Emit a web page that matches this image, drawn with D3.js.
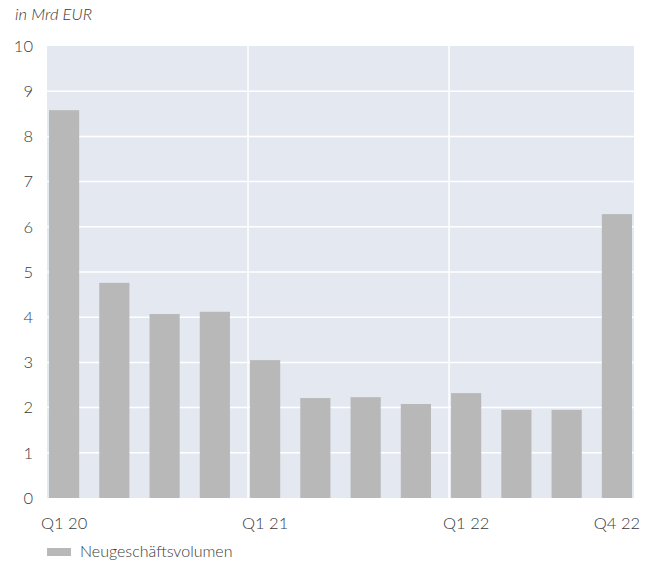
<!DOCTYPE html>
<html lang="de">
<head>
  <meta charset="UTF-8">
  <title>Neugeschäftsvolumen</title>
  <script src="https://d3js.org/d3.v7.min.js"></script>
  <style>
    body {
      margin: 0;
      padding: 0;
      background: #fff;
      font-family: 'Lato', 'Open Sans', sans-serif;
      font-weight: 300;
    }
    .tick text { fill: #3a3a3a; }
  </style>
</head>
<body>
  <div id="chart"></div>
  <script>
    // quarters and new business volume (Mrd EUR)
    const quarters = ["Q1 20", "Q2 20", "Q3 20", "Q4 20", "Q1 21", "Q2 21", "Q3 21", "Q4 21", "Q1 22", "Q2 22", "Q3 22", "Q4 22"];
    const volumes = [8.58, 4.76, 4.07, 4.12, 3.05, 2.21, 2.23, 2.08, 2.32, 1.95, 1.95, 6.28];
    const shownLabels = ["Q1 20", "Q1 21", "Q1 22", "Q4 22"];
    const yearStarts = ["Q1 21", "Q1 22"];
    const yTicks = [0, 1, 2, 3, 4, 5, 6, 7, 8, 9, 10];

    const W = 647, H = 562;
    const margin = { top: 46, right: 13, bottom: 64, left: 47 };
    const width = W - margin.left - margin.right,
          height = H - margin.top - margin.bottom;

    const svg = d3.select("#chart").append("svg")
      .attr("width", W)
      .attr("height", H);

    const g = svg.append("g")
      .attr("transform", "translate(" + margin.left + "," + margin.top + ")");

    const x = d3.scaleBand()
      .domain(quarters)
      .range([0, width])
      .paddingInner(0.4)
      .paddingOuter(0.04);

    const y = d3.scaleLinear()
      .domain([0, 10])
      .range([height, 0]);

    // plot background
    g.append("rect")
      .attr("width", width)
      .attr("height", height)
      .attr("fill", "#e4e8f1");

    // horizontal grid
    g.selectAll(".hgrid")
      .data(yTicks.filter(d => d > 0 && d < 10))
      .enter().append("line")
      .attr("x1", 0).attr("x2", width)
      .attr("y1", d => y(d)).attr("y2", d => y(d))
      .attr("stroke", "#fff")
      .attr("stroke-width", 1.5);

    // vertical separators at year start
    g.selectAll(".vgrid")
      .data(yearStarts)
      .enter().append("line")
      .attr("x1", d => x(d) - 2).attr("x2", d => x(d) - 2)
      .attr("y1", 0).attr("y2", height)
      .attr("stroke", "#fff")
      .attr("stroke-width", 1.5);

    // bars
    g.selectAll(".bar")
      .data(volumes)
      .enter().append("rect")
      .attr("x", (d, i) => x(quarters[i]))
      .attr("y", d => y(d))
      .attr("width", x.bandwidth())
      .attr("height", d => height - y(d))
      .attr("fill", "#b7b8b7");

    // y axis
    const yAxis = g.append("g")
      .attr("transform", "translate(-14,0)")
      .call(d3.axisLeft(y).tickValues(yTicks).tickSize(0).tickPadding(0));
    yAxis.select(".domain").remove();
    yAxis.selectAll("text")
      .attr("font-size", 16.5)
      .attr("font-weight", 300)
      .attr("font-family", "Lato, 'Open Sans', sans-serif");

    // x axis
    const xAxis = g.append("g")
      .attr("transform", "translate(0," + height + ")")
      .call(d3.axisBottom(x)
        .tickValues(shownLabels)
        .tickSize(0)
        .tickPadding(19));
    xAxis.select(".domain").remove();
    xAxis.selectAll("text")
      .attr("font-size", 16.5)
      .attr("font-weight", 300)
      .attr("font-family", "Lato, 'Open Sans', sans-serif");

    // unit label
    svg.append("text")
      .attr("x", 15)
      .attr("y", 20)
      .attr("font-size", 16.5)
      .attr("font-style", "italic")
      .attr("fill", "#3a3a3a")
      .text("in Mrd EUR");

    // legend
    const legend = svg.append("g")
      .attr("transform", "translate(47,548)");
    legend.append("rect")
      .attr("width", 24)
      .attr("height", 8)
      .attr("fill", "#b7b8b7");
    legend.append("text")
      .attr("x", 33)
      .attr("y", 9)
      .attr("font-size", 16)
      .attr("fill", "#3a3a3a")
      .text("Neugeschäftsvolumen");
  </script>
</body>
</html>
